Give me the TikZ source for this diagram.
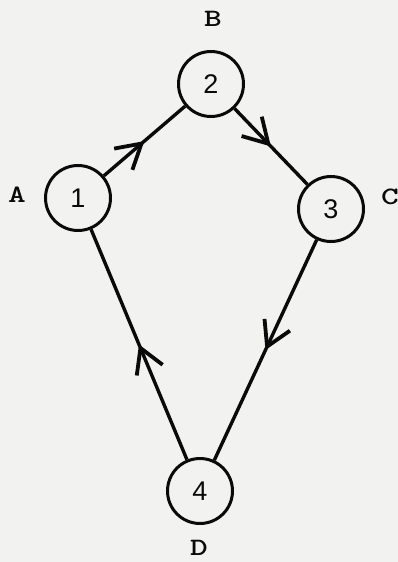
\documentclass[tikz,border=0pt]{standalone}
\usepackage{fontspec}
\setmainfont{Liberation Sans}
\usetikzlibrary{arrows.meta,decorations.markings}
\definecolor{paper}{RGB}{242,242,241}
\definecolor{ink}{RGB}{10,10,10}
\newcommand{\widelbl}[1]{\scalebox{1.35}[1]{#1}}
\tikzset{
  state/.style={circle,draw=ink,line width=3pt,minimum size=65pt,inner sep=0pt,font=\fontsize{27}{27}\selectfont,text=ink},
  lbl/.style={font=\ttfamily\bfseries\fontsize{25}{25}\selectfont,text=ink,inner sep=0pt},
  flow/.style={draw=ink,line width=3.4pt,postaction={decorate},
    decoration={markings,mark=at position 0.5 with {\arrow{Straight Barb[length=24pt,width=28pt,line width=3.8pt]}}}}
}
\begin{document}
\begin{tikzpicture}[x=1pt,y=1pt]
\fill[paper] (0,0) rectangle (398,-562);
\useasboundingbox (0,0) rectangle (398,-562);
\node[state] (n1) at (78,-198) {1};
\node[state] (n2) at (211,-84) {2};
\node[state] (n3) at (331,-209) {3};
\node[state] (n4) at (200,-491) {4};
\node[lbl] (la) at (17,-195) {\widelbl{A}};
\node[lbl] (lb) at (213,-19) {\widelbl{B}};
\node[lbl] (lc) at (390,-197) {\widelbl{C}};
\node[lbl] (ld) at (199,-548) {\widelbl{D}};
\path[flow] (n1) -- (n2);
\path[flow] (n2) -- (n3);
\path[flow] (n3) -- (n4);
\path[flow] (n4) -- (n1);
\end{tikzpicture}
\end{document}
